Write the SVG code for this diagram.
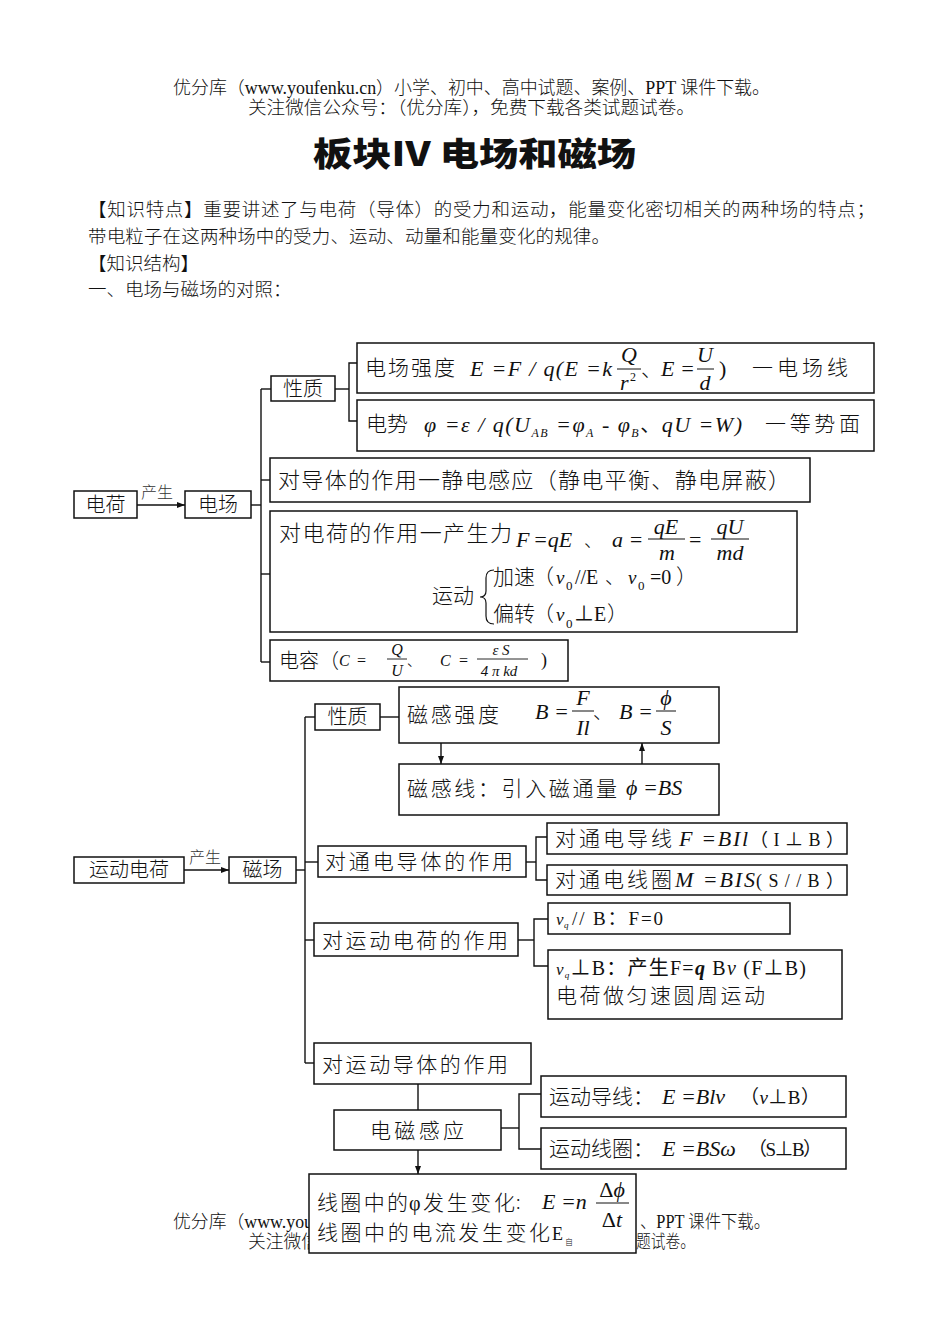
<svg xmlns="http://www.w3.org/2000/svg" width="950" height="1342" viewBox="0 0 950 1342">
<defs>
<style>
.box{fill:#fff;stroke:#111;stroke-width:1.5}
.ln{fill:none;stroke:#111;stroke-width:1.4}
.zh{font-family:"Noto Sans CJK SC","Noto Sans CJK JP",sans-serif;font-weight:300;font-size:21px;fill:#111}
.pg{font-family:"Liberation Serif","Noto Sans CJK SC",serif;font-weight:300;font-size:18px;fill:#111}
.m{font-family:"Liberation Serif","DejaVu Serif",serif;font-style:italic;font-size:22px;fill:#111}
.r{font-family:"Liberation Serif","Noto Sans CJK SC",serif;fill:#111}
.lab{font-family:"Noto Sans CJK SC",sans-serif;font-weight:300;font-size:16px;fill:#333}
</style>
<marker id="ah" markerWidth="8" markerHeight="6" refX="8" refY="3" orient="auto" markerUnits="userSpaceOnUse">
<path d="M0,0 L8,3 L0,6 z" fill="#111"/>
</marker>
</defs>
<rect width="950" height="1342" fill="#fff"/>

<g id="header">
<text class="pg" x="173" y="94" textLength="597" lengthAdjust="spacingAndGlyphs">优分库（www.youfenku.cn）小学、初中、高中试题、案例、PPT 课件下载。</text>
<text class="pg" x="248" y="114" textLength="447" lengthAdjust="spacingAndGlyphs">关注微信公众号：（优分库），免费下载各类试题试卷。</text>
<text x="313" y="166" textLength="323" lengthAdjust="spacingAndGlyphs" style="font-family:'Noto Sans CJK SC',sans-serif;font-size:33px;font-weight:900;fill:#111">板块Ⅳ 电场和磁场</text>
<text class="pg" x="88" y="216" textLength="787" lengthAdjust="spacing" style="font-size:18.5px">【知识特点】重要讲述了与电荷（导体）的受力和运动，能量变化密切相关的两种场的特点；</text>
<text class="pg" x="88" y="243" textLength="522" lengthAdjust="spacing" style="font-size:18.5px">带电粒子在这两种场中的受力、运动、动量和能量变化的规律。</text>
<text class="pg" x="88" y="270" style="font-size:18.5px">【知识结构】</text>
<text class="pg" x="88" y="296" style="font-size:18.5px">一、电场与磁场的对照：</text>
</g>

<g id="footer">
<text class="pg" x="173" y="1228" textLength="140" lengthAdjust="spacingAndGlyphs">优分库（www.you</text>
<text class="pg" x="640" y="1228" textLength="130" lengthAdjust="spacingAndGlyphs">、PPT 课件下载。</text>
<text class="pg" x="248" y="1248" textLength="71" lengthAdjust="spacingAndGlyphs">关注微信</text>
<text class="pg" x="636" y="1248" textLength="59" lengthAdjust="spacingAndGlyphs">题试卷。</text>
</g>

<g id="connectors">
<line class="ln" x1="137" y1="505" x2="185" y2="505" marker-end="url(#ah)"/>
<text class="lab" x="141" y="498">产生</text>
<polyline class="ln" points="251,505 261,505"/>
<line class="ln" x1="261" y1="389" x2="261" y2="662"/>
<line class="ln" x1="261" y1="389" x2="271" y2="389"/>
<line class="ln" x1="261" y1="480" x2="270" y2="480"/>
<line class="ln" x1="261" y1="574" x2="270" y2="574"/>
<line class="ln" x1="261" y1="662" x2="270" y2="662"/>
<line class="ln" x1="335" y1="389" x2="349" y2="389"/>
<polyline class="ln" points="357,363 349,363 349,421 357,421"/>

<line class="ln" x1="184" y1="870" x2="229" y2="870" marker-end="url(#ah)"/>
<text class="lab" x="189" y="863">产生</text>
<line class="ln" x1="296" y1="870" x2="305" y2="870"/>
<line class="ln" x1="305" y1="717" x2="305" y2="1063"/>
<line class="ln" x1="305" y1="717" x2="315" y2="717"/>
<line class="ln" x1="380" y1="717" x2="399" y2="717"/>
<line class="ln" x1="441" y1="743" x2="441" y2="764" marker-end="url(#ah)"/>
<line class="ln" x1="642" y1="764" x2="642" y2="743" marker-end="url(#ah)"/>
<line class="ln" x1="305" y1="862" x2="318" y2="862"/>
<line class="ln" x1="526" y1="862" x2="536" y2="862"/>
<polyline class="ln" points="547,837 536,837 536,880 547,880"/>
<line class="ln" x1="305" y1="940" x2="314" y2="940"/>
<line class="ln" x1="518" y1="940" x2="534" y2="940"/>
<polyline class="ln" points="548,919 534,919 534,966 548,966"/>
<line class="ln" x1="305" y1="1063" x2="314" y2="1063"/>
<line class="ln" x1="418" y1="1084" x2="418" y2="1110"/>
<line class="ln" x1="501" y1="1128" x2="519" y2="1128"/>
<polyline class="ln" points="541,1094 519,1094 519,1149 541,1149"/>
<line class="ln" x1="418" y1="1150" x2="418" y2="1174" marker-end="url(#ah)"/>
</g>

<g id="n-dianhe">
<rect class="box" x="74" y="491" width="63" height="27"/>
<text class="zh" x="105.5" y="512" text-anchor="middle" style="font-size:20px">电荷</text>
</g>
<g id="n-dianchang">
<rect class="box" x="185" y="491" width="66" height="27"/>
<text class="zh" x="218" y="512" text-anchor="middle" style="font-size:20px">电场</text>
</g>
<g id="n-xingzhi1">
<rect class="box" x="271" y="376" width="64" height="25"/>
<text class="zh" x="303" y="396" text-anchor="middle" style="font-size:20px">性质</text>
</g>
<g id="n-qiangdu">
<rect class="box" x="357" y="343" width="517" height="50"/>
<text class="zh" x="365" y="375" textLength="90" lengthAdjust="spacing">电场强度</text>
<text class="m" x="470" y="376" textLength="142" lengthAdjust="spacing">E =F / q(E =k</text>
<text class="m" x="629" y="362" text-anchor="middle">Q</text>
<line class="ln" x1="617" y1="369" x2="641" y2="369" style="stroke-width:1"/>
<text class="m" x="620" y="390">r</text>
<text class="r" x="630" y="381" style="font-size:12px">2</text>
<text class="zh" x="641" y="376">、</text>
<text class="m" x="661" y="376">E =</text>
<text class="m" x="705" y="362" text-anchor="middle">U</text>
<line class="ln" x1="697" y1="369" x2="714" y2="369" style="stroke-width:1"/>
<text class="m" x="705" y="390" text-anchor="middle">d</text>
<text class="r" x="719" y="376" style="font-size:22px">)</text>
<text class="zh" x="752" y="375" textLength="96" lengthAdjust="spacing">一电场线</text>
</g>
<g id="n-dianshi">
<rect class="box" x="357" y="400" width="517" height="51"/>
<text class="zh" x="366" y="431">电势</text>
<text class="m" x="424" y="432" textLength="318" lengthAdjust="spacing">φ =ε / q(U<tspan style="font-size:12px" dy="5">AB</tspan><tspan dy="-5"> =φ</tspan><tspan style="font-size:12px" dy="5">A</tspan><tspan dy="-5"> - φ</tspan><tspan style="font-size:12px" dy="5">B</tspan><tspan dy="-5" style="font-family:'Noto Sans CJK SC',sans-serif;font-style:normal;font-size:20px">、</tspan>qU =W)</text>
<text class="zh" x="765" y="431" textLength="95" lengthAdjust="spacing">一等势面</text>
</g>
<g id="n-daoti">
<rect class="box" x="270" y="458" width="540" height="44"/>
<text class="zh" x="278" y="488" textLength="512" lengthAdjust="spacing" style="font-size:22px">对导体的作用一静电感应（静电平衡、静电屏蔽）</text>
</g>
<g id="n-dianhe-zuoyong">
<rect class="box" x="270" y="511" width="527" height="121"/>
<text class="zh" x="279" y="541" textLength="233" lengthAdjust="spacing" style="font-size:22px">对电荷的作用一产生力</text>
<text class="m" x="516" y="547">F</text>
<text class="m" x="533" y="547">=qE</text>
<text class="zh" x="584" y="547" style="font-size:18px">、</text>
<text class="m" x="612" y="547">a =</text>
<text class="m" x="666" y="534" text-anchor="middle">qE</text>
<line class="ln" x1="648" y1="539" x2="685" y2="539" style="stroke-width:1"/>
<text class="m" x="667" y="560" text-anchor="middle">m</text>
<text class="r" x="689" y="547" style="font-size:22px">=</text>
<text class="m" x="730" y="534" text-anchor="middle">qU</text>
<line class="ln" x1="711" y1="539" x2="749" y2="539" style="stroke-width:1"/>
<text class="m" x="730" y="560" text-anchor="middle">md</text>
<text class="zh" x="432" y="603" style="font-size:21px">运动</text>
<path class="ln" d="M494,570 Q486,570 486,578 L486,591 Q486,597 480,597 Q486,597 486,603 L486,616 Q486,624 494,624" style="stroke-width:1.2"/>
<text class="zh" x="493" y="584" style="font-size:21px">加速</text>
<text class="zh" x="533" y="584" style="font-size:21px">（</text>
<text class="m" x="556" y="584" style="font-size:19px">v</text>
<text class="r" x="566" y="590" style="font-size:13px">0</text>
<text class="r" x="575" y="584" style="font-size:20px">//E</text>
<text class="zh" x="605" y="584" style="font-size:19px">、</text>
<text class="m" x="628" y="584" style="font-size:19px">v</text>
<text class="r" x="638" y="590" style="font-size:13px">0</text>
<text class="r" x="650" y="584" style="font-size:20px">=0</text>
<text class="zh" x="676" y="584" style="font-size:21px">）</text>
<text class="zh" x="493" y="621" style="font-size:21px">偏转</text>
<text class="zh" x="533" y="621" style="font-size:21px">（</text>
<text class="m" x="556" y="621" style="font-size:19px">v</text>
<text class="r" x="566" y="628" style="font-size:13px">0</text>
<text class="r" x="574" y="621" style="font-size:20px">⊥E</text>
<text class="zh" x="607" y="621" style="font-size:21px">）</text>
</g>
<g id="n-dianrong">
<rect class="box" x="270" y="640" width="298" height="41"/>
<text class="zh" x="279" y="668" style="font-size:20px">电容（</text>
<text class="m" x="339" y="666" style="font-size:16px">C</text>
<text class="r" x="357" y="666" style="font-size:16px">=</text>
<text class="m" x="397" y="655" text-anchor="middle" style="font-size:16px">Q</text>
<line class="ln" x1="387" y1="659" x2="407" y2="659" style="stroke-width:0.9"/>
<text class="m" x="397" y="676" text-anchor="middle" style="font-size:16px">U</text>
<text class="zh" x="407" y="666" style="font-size:14px">、</text>
<text class="m" x="440" y="666" style="font-size:16px">C</text>
<text class="r" x="459" y="666" style="font-size:16px">=</text>
<text class="m" x="501" y="655" text-anchor="middle" style="font-size:15px">ε S</text>
<line class="ln" x1="477" y1="659" x2="528" y2="659" style="stroke-width:0.9"/>
<text class="m" x="499" y="676" text-anchor="middle" style="font-size:15px">4 π kd</text>
<text class="r" x="541" y="666" style="font-size:18px">)</text>
</g>

<g id="n-yundong-dianhe">
<rect class="box" x="74" y="857" width="110" height="26"/>
<text class="zh" x="129" y="877" text-anchor="middle" style="font-size:20px">运动电荷</text>
</g>
<g id="n-cichang">
<rect class="box" x="229" y="857" width="67" height="26"/>
<text class="zh" x="262.5" y="877" text-anchor="middle" style="font-size:20px">磁场</text>
</g>
<g id="n-xingzhi2">
<rect class="box" x="315" y="704" width="65" height="26"/>
<text class="zh" x="347.5" y="724" text-anchor="middle" style="font-size:20px">性质</text>
</g>
<g id="n-ciganqiangdu">
<rect class="box" x="399" y="687" width="320" height="56"/>
<text class="zh" x="407" y="722" textLength="92" lengthAdjust="spacing">磁感强度</text>
<text class="m" x="535" y="719">B =</text>
<text class="m" x="583" y="705" text-anchor="middle">F</text>
<line class="ln" x1="572" y1="711" x2="594" y2="711" style="stroke-width:1"/>
<text class="m" x="583" y="735" text-anchor="middle">Il</text>
<text class="zh" x="593" y="719" style="font-size:19px">、</text>
<text class="m" x="619" y="719">B =</text>
<text class="m" x="666" y="705" text-anchor="middle">ϕ</text>
<line class="ln" x1="656" y1="711" x2="676" y2="711" style="stroke-width:1"/>
<text class="m" x="666" y="735" text-anchor="middle">S</text>
</g>
<g id="n-ciganxian">
<rect class="box" x="399" y="764" width="320" height="51"/>
<text class="zh" x="407" y="796" textLength="210" lengthAdjust="spacing">磁感线：引入磁通量</text>
<text class="m" x="626" y="795">ϕ =BS</text>
</g>
<g id="n-tongdian-daoti">
<rect class="box" x="318" y="846" width="208" height="31"/>
<text class="zh" x="325" y="869" textLength="188" lengthAdjust="spacing">对通电导体的作用</text>
</g>
<g id="n-daoxian">
<rect class="box" x="547" y="823" width="300" height="31"/>
<text class="zh" x="555" y="846" textLength="117" lengthAdjust="spacing">对通电导线</text>
<text class="m" x="679" y="846" textLength="69" lengthAdjust="spacing">F =BIl</text>
<text class="r" x="750" y="846" textLength="94" lengthAdjust="spacing" style="font-size:18px">（I⊥B）</text>
</g>
<g id="n-xianquan">
<rect class="box" x="547" y="865" width="300" height="30"/>
<text class="zh" x="555" y="887" textLength="117" lengthAdjust="spacing">对通电线圈</text>
<text class="m" x="675" y="887" textLength="80" lengthAdjust="spacing">M =BIS</text>
<text class="r" x="756" y="887" textLength="88" lengthAdjust="spacing" style="font-size:18px">(S//B）</text>
</g>
<g id="n-yundong-zuoyong">
<rect class="box" x="314" y="923" width="204" height="33"/>
<text class="zh" x="322" y="948" textLength="186" lengthAdjust="spacing">对运动电荷的作用</text>
</g>
<g id="n-pingxing">
<rect class="box" x="548" y="903" width="242" height="31"/>
<text class="m" x="556" y="925" style="font-size:17px">v</text>
<text class="m" x="564" y="928" style="font-size:9px">q</text>
<text class="r" x="572" y="925" textLength="91" lengthAdjust="spacing" style="font-size:19px">// B：F=0</text>
</g>
<g id="n-chuizhi">
<rect class="box" x="548" y="950" width="294" height="69"/>
<text class="r" x="556" y="975" textLength="250" lengthAdjust="spacing" style="font-size:20px"><tspan style="font-style:italic;font-size:17px">v</tspan><tspan style="font-style:italic;font-size:9px" dy="3">q</tspan><tspan dy="-3">⊥B：产生F=</tspan><tspan style="font-style:italic;font-weight:bold">q</tspan> B<tspan style="font-style:italic">v</tspan> (F⊥B)</text>
<text class="zh" x="556" y="1003" textLength="209" lengthAdjust="spacing">电荷做匀速圆周运动</text>
</g>
<g id="n-yundong-daoti">
<rect class="box" x="314" y="1043" width="217" height="41"/>
<text class="zh" x="322" y="1072" textLength="186" lengthAdjust="spacing">对运动导体的作用</text>
</g>
<g id="n-diancigan">
<rect class="box" x="334" y="1110" width="167" height="40"/>
<text class="zh" x="370" y="1138" textLength="94" lengthAdjust="spacing">电磁感应</text>
</g>
<g id="n-yundong-daoxian">
<rect class="box" x="541" y="1076" width="305" height="41"/>
<text class="zh" x="549" y="1104">运动导线：</text>
<text class="m" x="662" y="1104">E =Blv</text>
<text class="r" x="740" y="1104" textLength="80" lengthAdjust="spacing" style="font-size:19px">（<tspan style="font-style:italic">v</tspan>⊥B）</text>
</g>
<g id="n-yundong-xianquan">
<rect class="box" x="541" y="1128" width="305" height="41"/>
<text class="zh" x="549" y="1156">运动线圈：</text>
<text class="m" x="662" y="1156">E =BSω</text>
<text class="r" x="748" y="1156" textLength="74" lengthAdjust="spacing" style="font-size:19px">（S⊥B）</text>
</g>
<g id="n-xianquan-bianhua">
<rect class="box" x="309" y="1174" width="327" height="79"/>
<text class="zh" x="317" y="1210" textLength="91" lengthAdjust="spacing">线圈中的</text>
<text class="r" x="409" y="1210" style="font-size:20px">φ</text>
<text class="zh" x="423" y="1210" textLength="92" lengthAdjust="spacing">发生变化</text>
<text class="zh" x="516" y="1209" style="font-size:18px">:</text>
<text class="m" x="542" y="1209">E =n</text>
<text class="r" x="612" y="1197" text-anchor="middle" style="font-size:22px">Δ<tspan style="font-style:italic">ϕ</tspan></text>
<line class="ln" x1="596" y1="1203" x2="629" y2="1203" style="stroke-width:1"/>
<text class="r" x="612" y="1227" text-anchor="middle" style="font-size:22px">Δ<tspan style="font-style:italic">t</tspan></text>
<text class="zh" x="317" y="1240" textLength="233" lengthAdjust="spacing">线圈中的电流发生变化</text>
<text class="r" x="552" y="1240" style="font-size:18px">E</text>
<text class="zh" x="565" y="1245" style="font-size:8px">自</text>
</g>
</svg>
